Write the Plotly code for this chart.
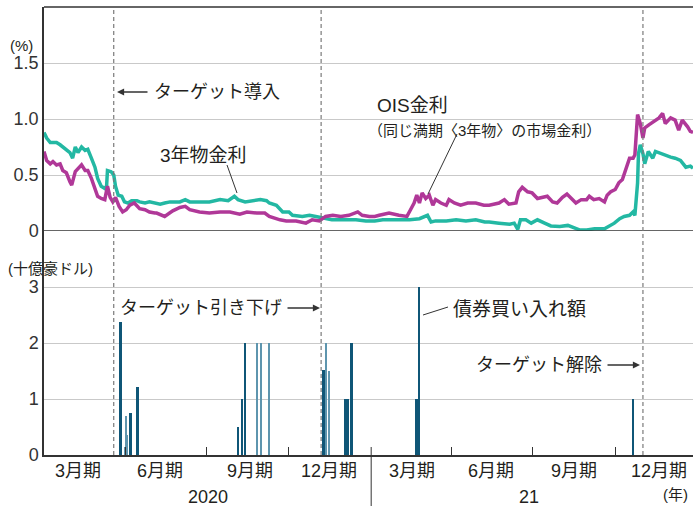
import plotly.graph_objects as go

# ---------------- data ----------------
jgb3_dates = [
    "2020-01-01", "2020-01-04", "2020-01-08", "2020-01-11", "2020-01-15", "2020-01-19", "2020-01-22",
    "2020-01-26", "2020-01-30", "2020-02-02", "2020-02-05", "2020-02-08", "2020-02-12", "2020-02-16",
    "2020-02-19", "2020-02-23", "2020-02-27", "2020-03-01", "2020-03-05", "2020-03-09", "2020-03-11",
    "2020-03-12", "2020-03-16", "2020-03-19", "2020-03-21", "2020-03-24", "2020-03-28", "2020-03-31",
    "2020-04-04", "2020-04-08", "2020-04-14", "2020-04-17", "2020-04-23", "2020-04-28", "2020-05-04",
    "2020-05-10", "2020-05-15", "2020-05-21", "2020-05-27", "2020-06-01", "2020-06-07", "2020-06-12",
    "2020-06-23", "2020-07-04", "2020-07-16", "2020-07-25", "2020-08-01", "2020-08-05", "2020-08-13",
    "2020-08-22", "2020-08-30", "2020-09-06", "2020-09-09", "2020-09-17", "2020-09-24", "2020-10-01",
    "2020-10-05", "2020-10-16", "2020-10-24", "2020-10-31", "2020-11-08", "2020-11-18", "2020-12-04",
    "2020-12-15", "2020-12-26", "2021-01-05", "2021-01-14", "2021-01-29", "2021-02-13", "2021-02-24",
    "2021-03-05", "2021-03-09", "2021-03-14", "2021-03-26", "2021-04-06", "2021-04-17", "2021-04-28",
    "2021-05-08", "2021-05-13", "2021-05-24", "2021-06-05", "2021-06-10", "2021-06-14", "2021-06-17",
    "2021-06-23", "2021-06-29", "2021-07-06", "2021-07-14", "2021-07-21", "2021-07-31", "2021-08-09",
    "2021-08-17", "2021-08-22", "2021-08-30", "2021-09-08", "2021-09-19", "2021-09-24", "2021-09-30",
    "2021-10-06", "2021-10-11", "2021-10-17", "2021-10-21", "2021-10-23", "2021-10-26", "2021-10-27",
    "2021-10-29", "2021-11-01", "2021-11-03", "2021-11-07", "2021-11-12", "2021-11-15", "2021-11-21",
    "2021-11-26", "2021-12-02", "2021-12-07", "2021-12-13", "2021-12-19", "2021-12-24", "2021-12-27",
]
jgb3_vals = [
    0.88, 0.83, 0.79, 0.79, 0.79, 0.77, 0.75,
    0.72, 0.70, 0.65, 0.75, 0.70, 0.75, 0.72,
    0.73, 0.65, 0.57, 0.47, 0.40, 0.38, 0.40,
    0.54, 0.53, 0.50, 0.40, 0.32, 0.31, 0.26,
    0.25, 0.27, 0.27, 0.26, 0.25, 0.26, 0.25,
    0.24, 0.25, 0.26, 0.26, 0.26, 0.28, 0.26,
    0.26, 0.26, 0.28, 0.27, 0.31, 0.28, 0.26,
    0.27, 0.28, 0.27, 0.25, 0.23, 0.17, 0.17,
    0.14, 0.13, 0.14, 0.13, 0.12, 0.10, 0.10,
    0.10, 0.09, 0.09, 0.10, 0.10, 0.10, 0.11,
    0.14, 0.08, 0.09, 0.09, 0.10, 0.09, 0.10,
    0.08, 0.08, 0.07, 0.06, 0.07, 0.015, 0.10,
    0.10, 0.07, 0.10, 0.07, 0.045, 0.04, 0.05,
    0.025, 0.01, 0.01, 0.02, 0.02, 0.04, 0.07,
    0.11, 0.13, 0.14, 0.17, 0.14, 0.43, 0.69,
    0.77, 0.69, 0.60, 0.71, 0.65, 0.71, 0.69,
    0.68, 0.66, 0.65, 0.63, 0.57, 0.58, 0.56,
]

ois_dates = [
    "2020-01-01", "2020-01-04", "2020-01-08", "2020-01-11", "2020-01-15", "2020-01-19", "2020-01-22",
    "2020-01-26", "2020-01-30", "2020-02-01", "2020-02-05", "2020-02-08", "2020-02-12", "2020-02-16",
    "2020-02-19", "2020-02-23", "2020-02-27", "2020-03-01", "2020-03-05", "2020-03-09", "2020-03-12",
    "2020-03-15", "2020-03-18", "2020-03-21", "2020-03-25", "2020-03-29", "2020-04-02", "2020-04-06",
    "2020-04-11", "2020-04-17", "2020-04-23", "2020-04-28", "2020-05-04", "2020-05-06", "2020-05-15",
    "2020-05-24", "2020-06-01", "2020-06-07", "2020-06-12", "2020-06-23", "2020-07-04", "2020-07-16",
    "2020-07-27", "2020-08-07", "2020-08-15", "2020-08-26", "2020-09-04", "2020-09-09", "2020-09-21",
    "2020-09-28", "2020-10-09", "2020-10-20", "2020-10-27", "2020-11-04", "2020-11-11", "2020-11-19",
    "2020-11-28", "2020-12-07", "2020-12-17", "2020-12-22", "2020-12-30", "2021-01-05", "2021-01-10",
    "2021-01-21", "2021-02-01", "2021-02-10", "2021-02-14", "2021-02-18", "2021-02-21", "2021-02-24",
    "2021-02-27", "2021-03-03", "2021-03-07", "2021-03-11", "2021-03-14", "2021-03-20", "2021-03-26",
    "2021-03-29", "2021-04-04", "2021-04-11", "2021-04-19", "2021-04-28", "2021-05-07", "2021-05-13",
    "2021-05-24", "2021-05-30", "2021-06-04", "2021-06-12", "2021-06-15", "2021-06-19", "2021-06-25",
    "2021-06-30", "2021-07-06", "2021-07-12", "2021-07-17", "2021-07-23", "2021-07-28", "2021-08-03",
    "2021-08-08", "2021-08-13", "2021-08-18", "2021-08-24", "2021-08-30", "2021-09-02", "2021-09-07",
    "2021-09-13", "2021-09-19", "2021-09-22", "2021-09-26", "2021-10-01", "2021-10-05", "2021-10-09",
    "2021-10-13", "2021-10-17", "2021-10-21", "2021-10-23", "2021-10-26", "2021-10-29", "2021-11-01",
    "2021-11-03", "2021-11-08", "2021-11-13", "2021-11-19", "2021-11-23", "2021-11-26", "2021-12-02",
    "2021-12-07", "2021-12-11", "2021-12-15", "2021-12-21", "2021-12-24", "2021-12-27",
]
ois_vals = [
    0.71, 0.63, 0.60, 0.62, 0.59, 0.60, 0.54,
    0.52, 0.44, 0.41, 0.53, 0.56, 0.59, 0.54,
    0.54, 0.47, 0.37, 0.31, 0.29, 0.28, 0.40,
    0.30, 0.26, 0.30, 0.22, 0.17, 0.19, 0.23,
    0.25, 0.20, 0.19, 0.17, 0.16, 0.16, 0.13,
    0.18, 0.21, 0.22, 0.19, 0.17, 0.16, 0.17,
    0.17, 0.15, 0.17, 0.16, 0.16, 0.13, 0.10,
    0.09, 0.09, 0.07, 0.10, 0.09, 0.13, 0.14,
    0.13, 0.14, 0.17, 0.14, 0.13, 0.13, 0.14,
    0.16, 0.14, 0.13, 0.19, 0.25, 0.32, 0.25,
    0.34, 0.29, 0.32, 0.23, 0.28, 0.25, 0.23,
    0.28, 0.25, 0.23, 0.25, 0.25, 0.23, 0.23,
    0.25, 0.28, 0.24, 0.25, 0.35, 0.39, 0.35,
    0.34, 0.29, 0.30, 0.31, 0.26, 0.25, 0.30,
    0.33, 0.29, 0.25, 0.28, 0.28, 0.31, 0.28,
    0.29, 0.26, 0.32, 0.35, 0.37, 0.43, 0.46,
    0.56, 0.65, 0.65, 0.68, 1.04, 0.96, 0.83,
    0.92, 0.95, 0.98, 1.01, 1.05, 0.96, 1.01,
    0.99, 0.90, 0.99, 0.93, 0.89, 0.88,
]

# bond purchases (A$ bn): bold bars and thin bars
buy_dates_bold = ["2020-03-27", "2020-04-07", "2020-04-15", "2020-08-05", "2020-08-10", "2020-08-13",
                  "2020-11-09", "2020-12-03", "2020-12-06", "2020-12-10", "2021-02-21", "2021-02-24",
                  "2021-10-21"]
buy_amts_bold = [2.37, 0.75, 1.21, 0.50, 1.0, 2.0,
                 1.52, 1.0, 1.0, 2.0, 1.0, 3.0,
                 1.0]
buy_dates_thin = ["2020-04-01", "2020-04-02", "2020-04-03", "2020-08-26", "2020-08-31", "2020-09-09",
                  "2020-11-11", "2020-11-15"]
buy_amts_thin = [0.14, 0.70, 0.36, 2.0, 2.0, 2.0,
                 2.0, 1.5]

event_dates = ["2020-03-19", "2020-11-06", "2021-11-01"]
quarter_ticks = ["2020-04-01", "2020-07-01", "2020-10-01", "2021-04-01", "2021-07-01", "2021-10-01"]
year_break = "2021-01-01"
quarter_labels = ["3月期", "6月期", "9月期", "12月期", "3月期", "6月期", "9月期", "12月期"]
quarter_label_dates = ["2020-02-08", "2020-05-10", "2020-08-18", "2020-11-15",
                       "2021-02-16", "2021-05-15", "2021-08-16", "2021-11-19"]
year_labels = ["2020", "21"]
year_label_dates = ["2020-07-03", "2021-06-27"]
rate_ticks = [0, 0.5, 1.0, 1.5]
rate_tick_text = ["0", "0.5", "1.0", "1.5"]
buy_ticks = [0, 1, 2, 3]
x_range = ["2020-01-01", "2021-12-27"]

# ---------------- styling ----------------
W, H = 693, 506
ML, MR, MT, MB = 44, 0, 7, 51
PW, PH = W - ML - MR, H - MT - MB
TEAL = "#23b8a3"
PURPLE = "#b03898"
BAR_DARK = "#0f5677"
BAR_LIGHT = "#5e95ae"
TXT = "#231f20"
AXC = "#333333"
GRID = "#c9c9c9"
FONT = "Liberation Sans, Noto Sans CJK JP, sans-serif"
DAY_MS = 86400000


def px(x):
    return (x - ML) / PW


def py(y):
    return (H - MB - y) / PH


fig = go.Figure()

fig.add_trace(go.Bar(x=buy_dates_thin, y=buy_amts_thin, width=1.2 * DAY_MS,
                     marker=dict(color=BAR_LIGHT, line=dict(width=0)),
                     xaxis="x", yaxis="y", showlegend=False))
fig.add_trace(go.Bar(x=buy_dates_bold, y=buy_amts_bold, width=2.2 * DAY_MS,
                     marker=dict(color=BAR_DARK, line=dict(width=0)),
                     xaxis="x", yaxis="y", showlegend=False))

fig.add_trace(go.Scatter(x=jgb3_dates, y=jgb3_vals, mode="lines",
                         line=dict(color=TEAL, width=3.5), xaxis="x", yaxis="y2",
                         showlegend=False))
fig.add_trace(go.Scatter(x=ois_dates, y=ois_vals, mode="lines",
                         line=dict(color=PURPLE, width=3.5), xaxis="x", yaxis="y2",
                         showlegend=False))

shapes = []
shapes.append(dict(type="line", xref="paper", yref="paper", x0=0, x1=1, y0=1, y1=1,
                   line=dict(color=AXC, width=1.5)))
shapes.append(dict(type="line", xref="paper", yref="y2", x0=0, x1=1, y0=0, y1=0,
                   line=dict(color=AXC, width=1.5)))
for d in event_dates:
    shapes.append(dict(type="line", xref="x", yref="paper", x0=d, x1=d, y0=0, y1=1,
                       line=dict(color="#7a7a7a", width=1.2, dash="4px,3px"), layer="above"))
shapes.append(dict(type="line", xref="x", yref="paper", x0=year_break, x1=year_break,
                   y0=py(447), y1=py(506), line=dict(color=AXC, width=1)))
shapes.append(dict(type="line", xref="paper", yref="paper", x0=px(227), y0=py(165),
                   x1=px(237), y1=py(193), line=dict(color=AXC, width=1)))
shapes.append(dict(type="line", xref="paper", yref="paper", x0=px(457), y0=py(134),
                   x1=px(428), y1=py(194), line=dict(color=AXC, width=1)))
shapes.append(dict(type="line", xref="paper", yref="paper", x0=px(448), y0=py(307),
                   x1=px(423), y1=py(315), line=dict(color=AXC, width=1)))

ann = []


def text(t, x, y, size=18, xanchor="center", color=TXT, xref="paper"):
    ann.append(dict(text=t, x=x, y=y, xref=xref, yref="paper", showarrow=False,
                    xanchor=xanchor, yanchor="middle",
                    font=dict(size=size, color=color, family=FONT)))


def arrow(tip_x, tail_x, y):
    ann.append(dict(text="", x=px(tip_x), y=py(y), xref="paper", yref="paper",
                    showarrow=True, ax=tail_x - tip_x, ay=0, arrowhead=2,
                    arrowsize=1.1, arrowwidth=1.3, arrowcolor=AXC, standoff=0,
                    startstandoff=0))


text("(%)", px(21), py(45), size=15)
text("(十億豪ドル)", px(50), py(268), size=15)
text("ターゲット導入", px(152), py(92), xanchor="left")
arrow(117, 149, 92)
text("3年物金利", px(203), py(155), size=19)
text("OIS金利", px(412), py(105), size=19)
text("（同じ満期〈3年物〉の市場金利）", px(484), py(130), size=15)
text("ターゲット引き下げ", px(284), py(308), xanchor="right")
arrow(320, 286, 308)
text("債券買い入れ額", px(451), py(309), size=19, xanchor="left")
text("ターゲット解除", px(604), py(365), xanchor="right")
arrow(640, 606, 365)

for lab, d in zip(quarter_labels, quarter_label_dates):
    ann.append(dict(text=lab, x=d, y=py(471), xref="x", yref="paper", showarrow=False,
                    xanchor="center", yanchor="middle",
                    font=dict(size=18, color=TXT, family=FONT)))
for lab, d in zip(year_labels, year_label_dates):
    ann.append(dict(text=lab, x=d, y=py(497), xref="x", yref="paper", showarrow=False,
                    xanchor="center", yanchor="middle",
                    font=dict(size=18, color=TXT, family=FONT)))
text("(年)", px(675), py(494), size=15)

fig.update_layout(
    width=W, height=H,
    margin=dict(l=ML, r=MR, t=MT, b=MB),
    paper_bgcolor="white", plot_bgcolor="white",
    font=dict(family=FONT, color=TXT),
    bargap=0, barmode="overlay",
    xaxis=dict(type="date", range=x_range, anchor="y", showgrid=False,
               showline=True, linecolor=AXC, linewidth=1.5,
               tickmode="array", tickvals=quarter_ticks, ticks="inside", ticklen=8,
               tickcolor=AXC, tickwidth=1, showticklabels=False, zeroline=False),
    yaxis=dict(domain=[0, 0.5], range=[0, 4], anchor="x", tickmode="array",
               tickvals=buy_ticks, ticktext=[str(v) for v in buy_ticks],
               showgrid=True, gridcolor=GRID, gridwidth=1, zeroline=False,
               showline=True, linecolor=AXC, linewidth=1.5, ticks="",
               tickfont=dict(size=18, color=AXC, family=FONT), fixedrange=True),
    yaxis2=dict(domain=[0.5, 1], range=[0, 2], anchor="x", tickmode="array",
                tickvals=rate_ticks, ticktext=rate_tick_text,
                showgrid=True, gridcolor=GRID, gridwidth=1, zeroline=False,
                showline=True, linecolor=AXC, linewidth=1.5, ticks="",
                tickfont=dict(size=18, color=AXC, family=FONT)),
    shapes=shapes,
    annotations=ann,
)

fig.write_html("out.html", config={"displayModeBar": False},
               post_script="document.body.style.margin='0';document.body.style.overflow='hidden';")
